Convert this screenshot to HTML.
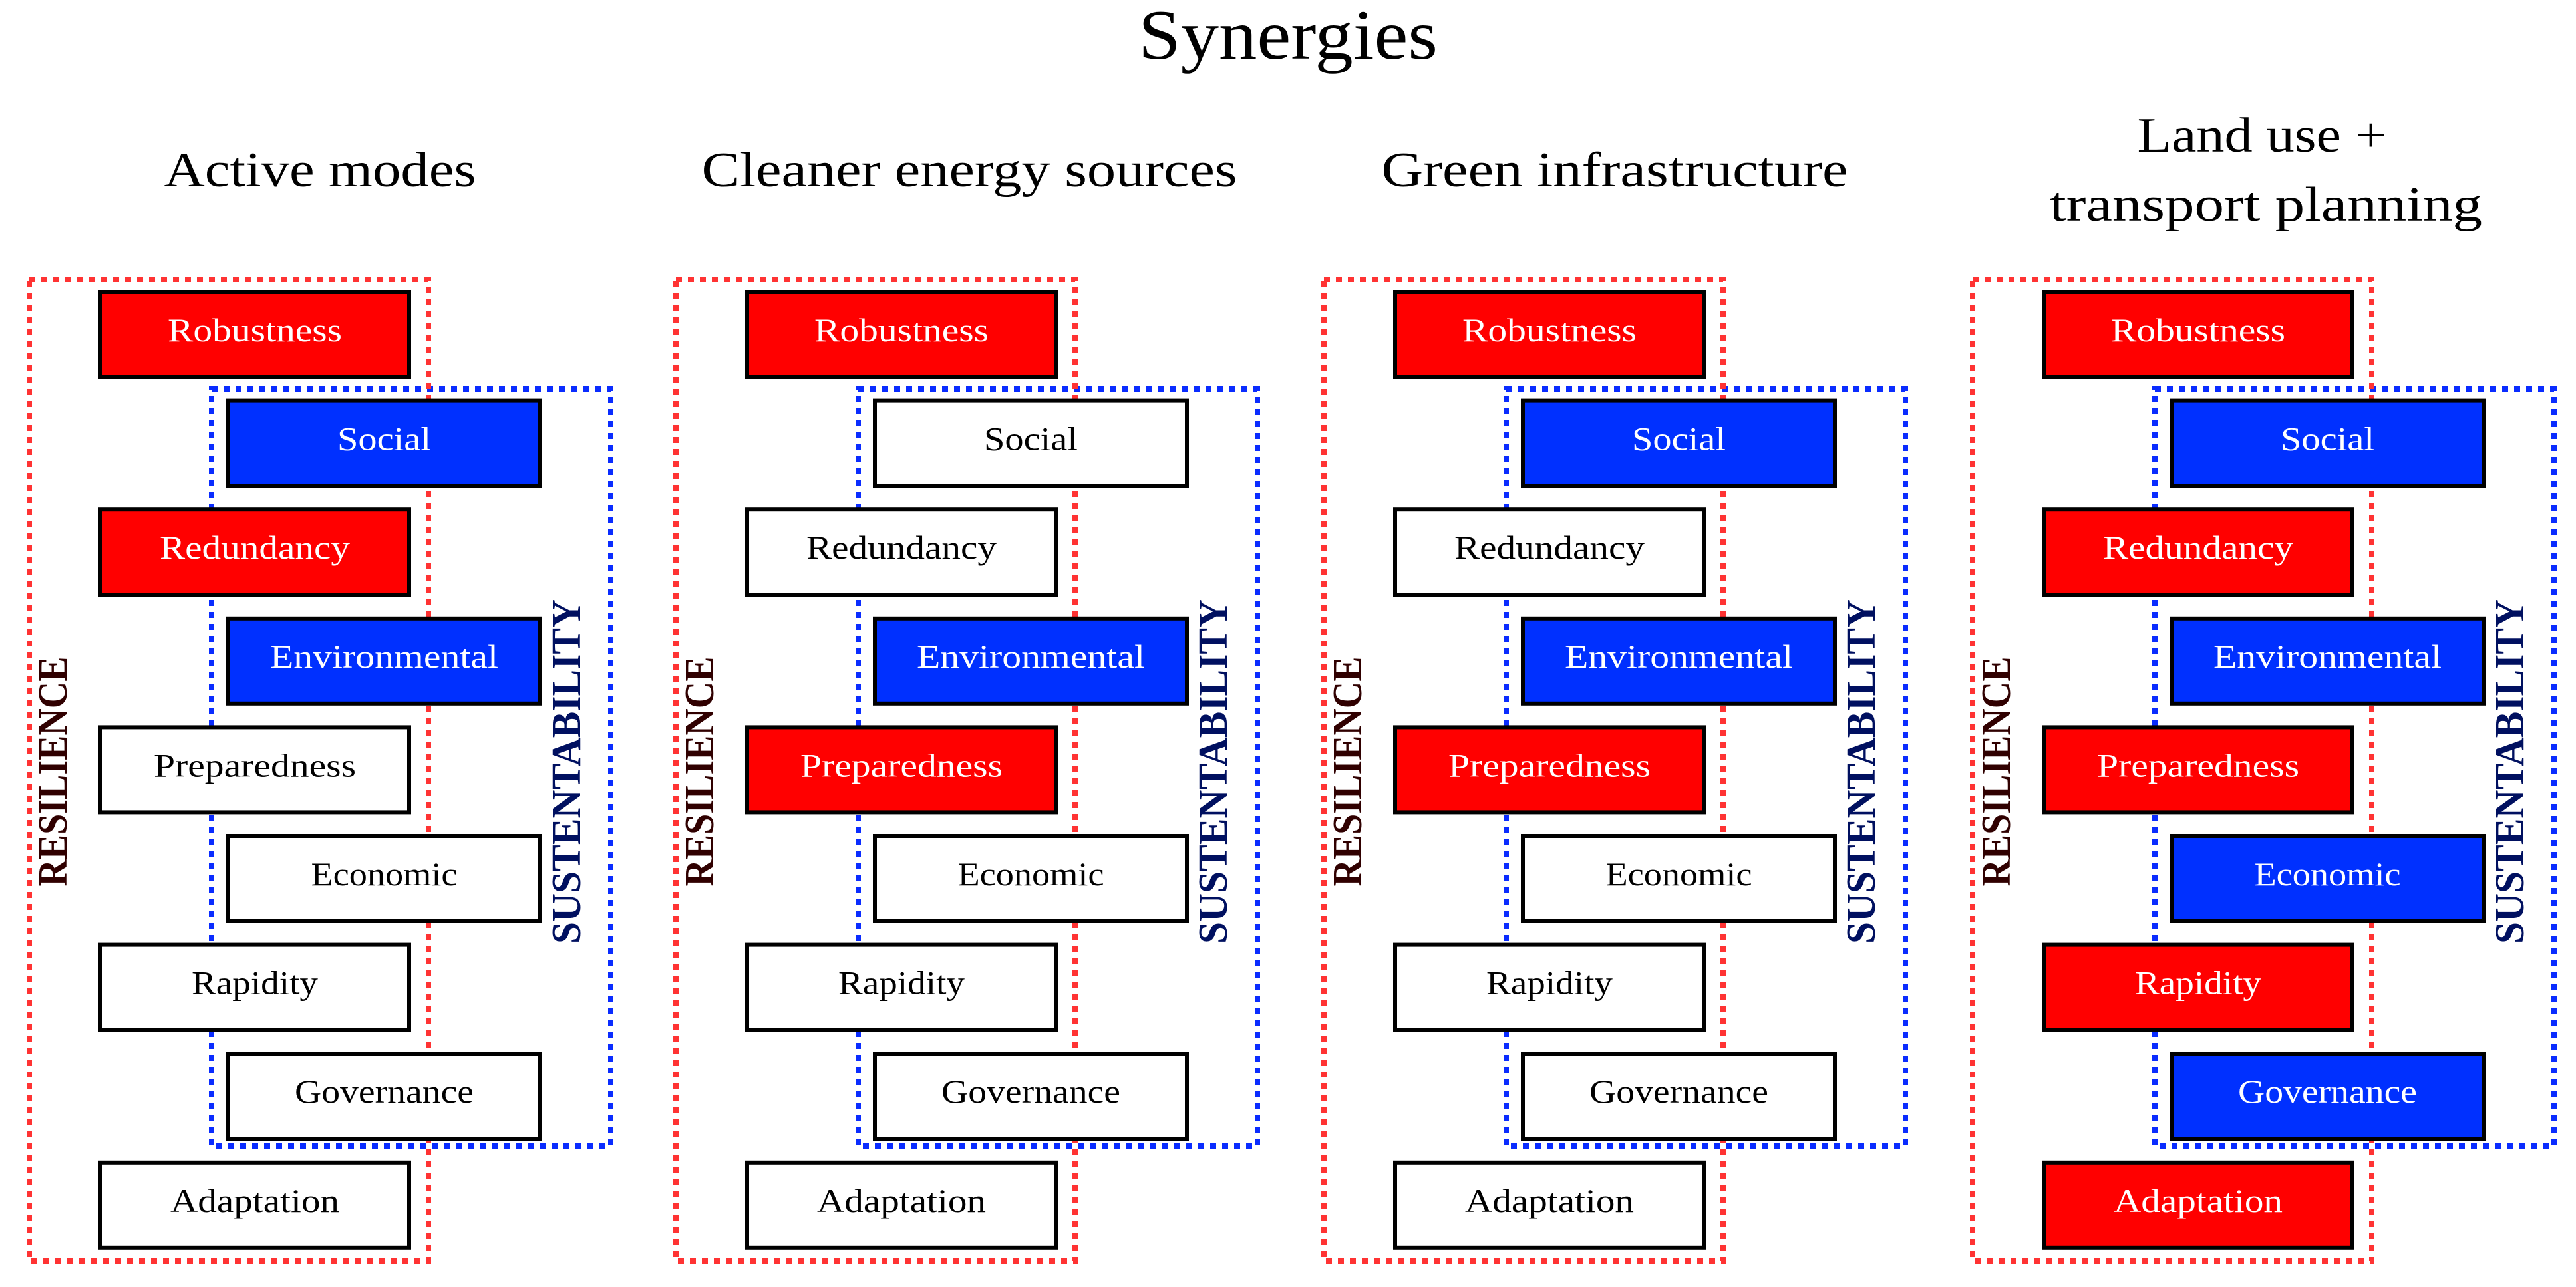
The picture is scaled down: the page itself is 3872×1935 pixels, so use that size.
<!DOCTYPE html>
<html><head><meta charset="utf-8"><style>
html,body{margin:0;padding:0;background:#fff;}
svg{display:block;}
</style></head><body>
<svg width="3872" height="1935" viewBox="0 0 3872 1935" xmlns="http://www.w3.org/2000/svg" font-family="'Liberation Serif','DejaVu Serif',serif">
<defs>
<g id="frame">
  <rect x="318" y="585" width="600" height="1138" fill="none" stroke="#0a2cff" stroke-width="8" stroke-dasharray="9 9"/>
  <rect x="44" y="420" width="600" height="1476" fill="none" stroke="#ff3333" stroke-width="8" stroke-dasharray="9 9"/>
  <text transform="translate(100,1160) rotate(-90)" text-anchor="middle" font-size="62" font-weight="bold" fill="#300000" textLength="345" lengthAdjust="spacingAndGlyphs">RESILIENCE</text>
  <text transform="translate(872,1160) rotate(-90)" text-anchor="middle" font-size="62" font-weight="bold" fill="#001060" textLength="518" lengthAdjust="spacingAndGlyphs">SUSTENTABILITY</text>
</g>
</defs>
<text x="1936" y="88" text-anchor="middle" font-size="106" textLength="450" lengthAdjust="spacingAndGlyphs">Synergies</text>
<text x="481" y="280" text-anchor="middle" font-size="74" textLength="469" lengthAdjust="spacingAndGlyphs">Active modes</text>
<text x="1457" y="280" text-anchor="middle" font-size="74" textLength="805" lengthAdjust="spacingAndGlyphs">Cleaner energy sources</text>
<text x="2427" y="280" text-anchor="middle" font-size="74" textLength="701" lengthAdjust="spacingAndGlyphs">Green infrastructure</text>
<text x="3400" y="228" text-anchor="middle" font-size="74" textLength="375" lengthAdjust="spacingAndGlyphs">Land use +</text>
<text x="3406" y="332" text-anchor="middle" font-size="74" textLength="650" lengthAdjust="spacingAndGlyphs">transport planning</text>
</svg>
<script>
const svg=document.querySelector('svg');const NS='http://www.w3.org/2000/svg';
const labels=['Robustness','Social','Redundancy','Environmental','Preparedness','Economic','Rapidity','Governance','Adaptation'];
const lens=[262,141,286,343,304,220,190,269,254];
const offs=[0,972,1946,2921];
const colors=[
 ['r','b','r','b','w','w','w','w','w'],
 ['r','w','w','b','r','w','w','w','w'],
 ['r','b','w','b','r','w','w','w','w'],
 ['r','b','r','b','r','b','r','b','r']];
const fill={r:'#ff0000',b:'#0030ff',w:'#ffffff'};
offs.forEach((ox,p)=>{
  const g=document.createElementNS(NS,'g');g.setAttribute('transform',`translate(${ox},0)`);
  const u=document.createElementNS(NS,'use');u.setAttribute('href','#frame');g.appendChild(u);
  labels.forEach((l,i)=>{
    const x=i%2?343:151, w=i%2?469:464, y=439+i*163.6;
    const c=colors[p][i];
    const r=document.createElementNS(NS,'rect');
    r.setAttribute('x',x);r.setAttribute('y',y);r.setAttribute('width',w);r.setAttribute('height',128);
    r.setAttribute('fill',fill[c]);r.setAttribute('stroke','#000');r.setAttribute('stroke-width','6');
    g.appendChild(r);
    const t=document.createElementNS(NS,'text');
    t.setAttribute('x',x+w/2);t.setAttribute('y',y+74);t.setAttribute('text-anchor','middle');
    t.setAttribute('textLength',lens[i]);t.setAttribute('lengthAdjust','spacingAndGlyphs');
    t.setAttribute('font-size','50');t.setAttribute('fill',c==='w'?'#000':'#fff');t.textContent=l;
    g.appendChild(t);
  });
  svg.appendChild(g);
});
</script>
</body></html>
